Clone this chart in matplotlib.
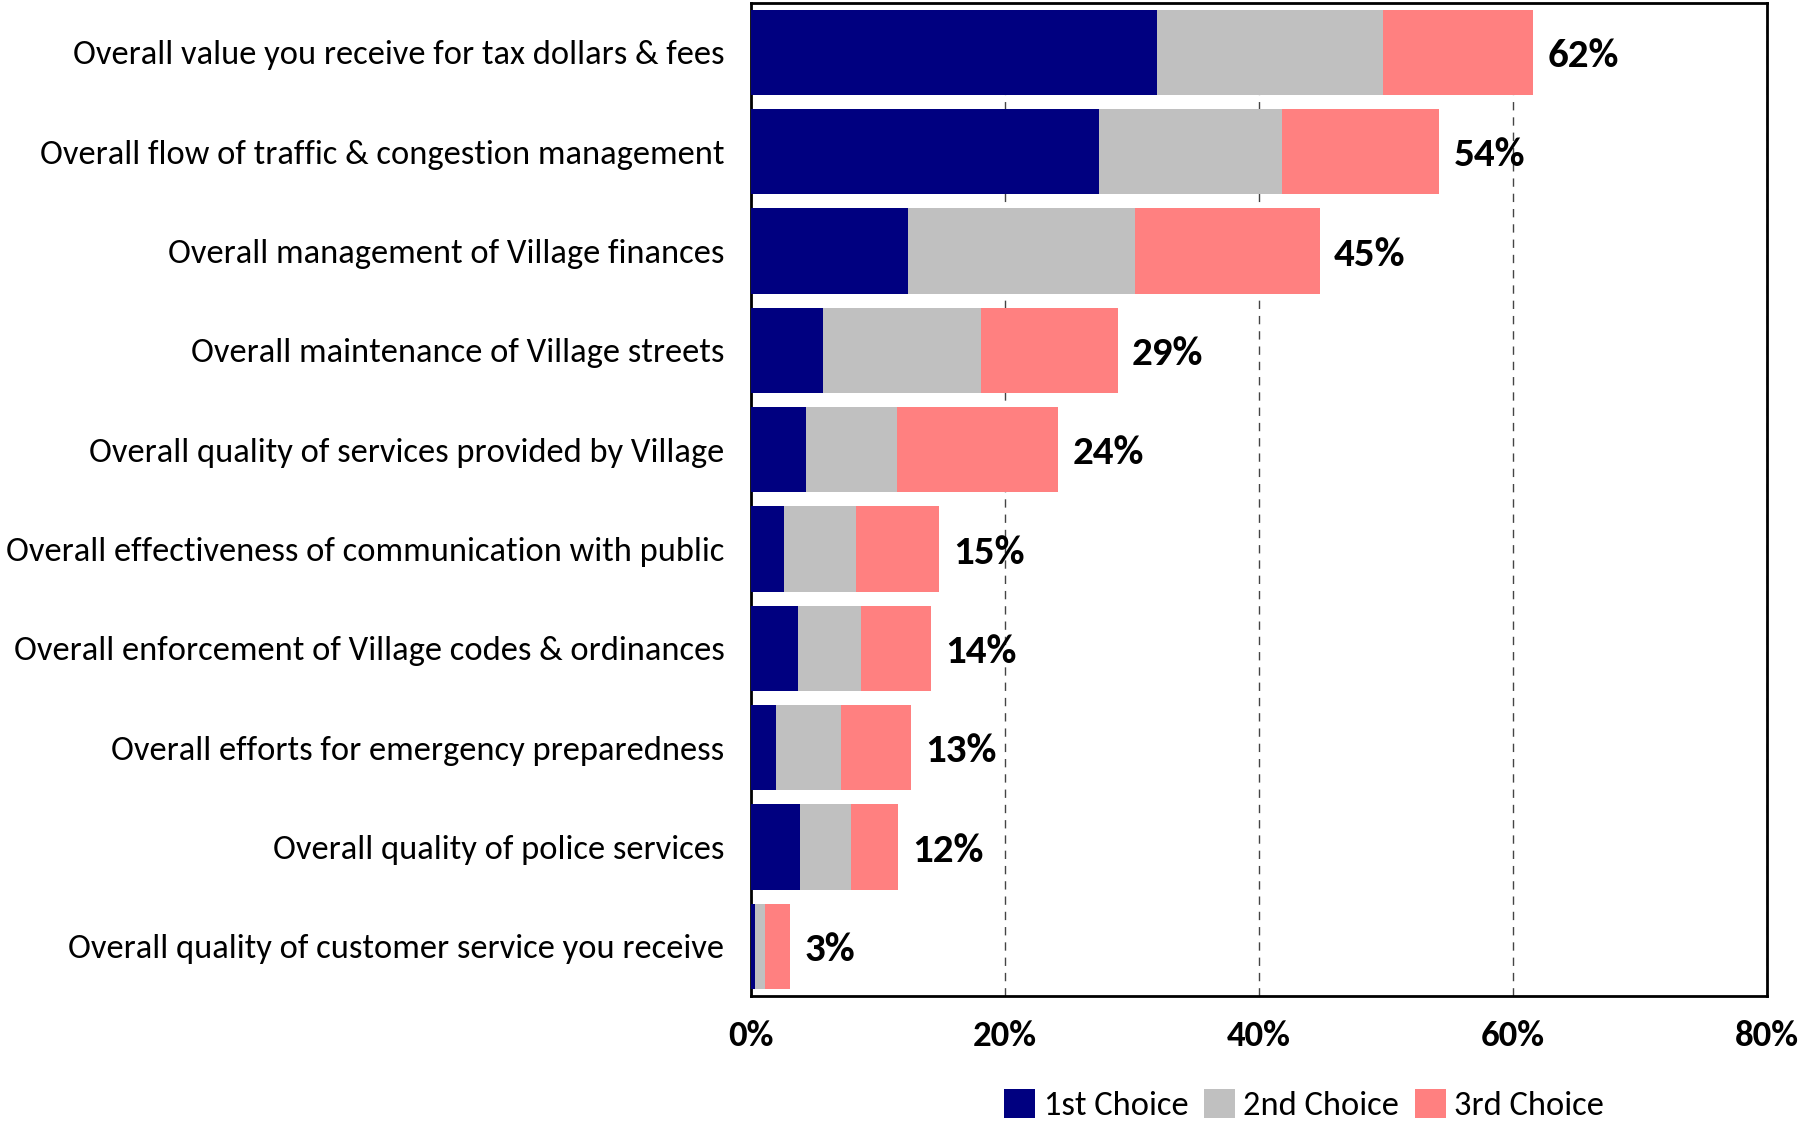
import matplotlib
matplotlib.use("Agg")
import matplotlib.pyplot as plt
from matplotlib import font_manager
import numpy as np

available = {f.name for f in font_manager.fontManager.ttflist}
for fam in ["Carlito", "Liberation Sans Narrow", "Open Sans"]:
    if fam in available:
        FONT = fam
        break
else:
    FONT = "DejaVu Sans"
plt.rcParams["font.family"] = FONT

categories = [
    "Overall value you receive for tax dollars & fees",
    "Overall flow of traffic & congestion management",
    "Overall management of Village finances",
    "Overall maintenance of Village streets",
    "Overall quality of services provided by Village",
    "Overall effectiveness of communication with public",
    "Overall enforcement of Village codes & ordinances",
    "Overall efforts for emergency preparedness",
    "Overall quality of police services",
    "Overall quality of customer service you receive",
]
first_choice = [32.0, 27.4, 12.4, 5.7, 4.3, 2.6, 3.7, 2.0, 3.9, 0.3]
second_choice = [17.8, 14.4, 17.8, 12.4, 7.2, 5.7, 5.0, 5.1, 4.0, 0.8]
third_choice = [11.8, 12.4, 14.6, 10.8, 12.7, 6.5, 5.5, 5.5, 3.7, 2.0]
series_names = ["1st Choice", "2nd Choice", "3rd Choice"]
colors = ["#000080", "#C0C0C0", "#FF8080"]
x_ticks = [0, 20, 40, 60, 80]
x_tick_labels = ["0%", "20%", "40%", "60%", "80%"]

fig = plt.figure(figsize=(18.05, 11.21), dpi=100)
ax = fig.add_axes([0.416, 0.1115, 0.563, 0.886])

y = np.arange(len(categories))
left = np.zeros(len(categories))
for vals, name, col in zip([first_choice, second_choice, third_choice], series_names, colors):
    ax.barh(y, vals, left=left, height=0.86, color=col, label=name, zorder=3)
    left = left + np.array(vals)

# total share label to the right of each stacked bar
for yi, total in zip(y, left):
    ax.text(total + 1.1, yi + 0.035, f"{round(total):.0f}%", va="center", ha="left",
            fontsize=29.5, fontweight="bold", zorder=4)

ax.set_xlim(0, 80)
ax.set_ylim(len(categories) - 0.5, -0.5)
ax.set_xticks(x_ticks)
ax.set_xticklabels(x_tick_labels, fontsize=26.5, fontweight="bold")
ax.set_yticks(y)
ax.set_yticklabels(categories, fontsize=24.8)
ax.tick_params(axis="y", length=0, pad=19)
ax.tick_params(axis="x", length=0, pad=17)
ax.xaxis.grid(True, linestyle=(0, (6, 5)), color="#444444", linewidth=1.0, zorder=0)
ax.yaxis.grid(False)
for sp in ax.spines.values():
    sp.set_linewidth(2.0)
    sp.set_color("black")

fig.legend(loc="center", bbox_to_anchor=(1304 / 1805, 1 - 1105 / 1121), ncol=3,
           frameon=False, fontsize=24.8, handlelength=0.9, handleheight=0.9,
           handletextpad=0.25, columnspacing=0.45, borderaxespad=0)

fig.savefig("out.png", dpi=100)
